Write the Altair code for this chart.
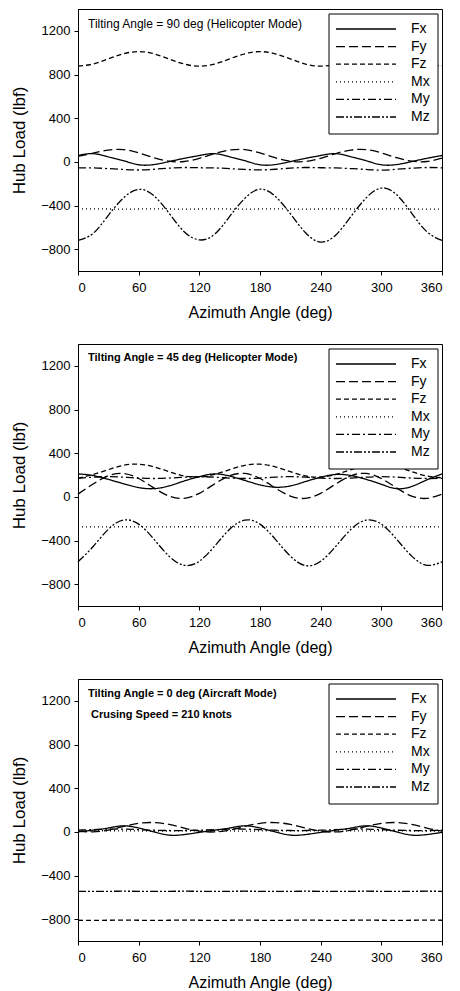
import altair as alt
import pandas as pd

ANGLES = [0, 15, 30, 45, 60, 75, 90, 105, 120, 135, 150, 165, 180,
          195, 210, 225, 240, 255, 270, 285, 300, 315, 330, 345, 360]
SERIES = ["Fx", "Fy", "Fz", "Mx", "My", "Mz"]
LEGEND_ROW = [0, 1, 2, 3, 4, 5]
X_TICKS = [0, 60, 120, 180, 240, 300, 360]
Y_TICKS = [-800, -400, 0, 400, 800, 1200]

# ---- Tilting angle 90 deg ----
fx_90 = [58, 75, 45, 10, -27, -25, 2, 32, 58, 75, 46, 10, -27, -25, 2, 32, 58, 75, 46, 10, -27, -25, 2, 32, 58]
fy_90 = [50, 80, 108, 112, 82, 38, 6, 3, 32, 76, 108, 112, 82, 38, 6, 3, 32, 76, 108, 112, 82, 38, 6, 3, 34]
fz_90 = [878, 896, 943, 990, 1010, 990, 943, 896, 876, 896, 943, 990, 1010, 990, 943, 896, 876, 896, 943, 990, 1010, 990, 943, 896, 880]
mx_90 = [-432, -431, -432, -433, -432, -431, -432, -433, -432, -431, -432, -433, -432, -431, -432, -433, -432, -431, -432, -433, -432, -431, -432, -433, -432]
my_90 = [-55, -56, -62, -70, -75, -68, -58, -52, -54, -56, -62, -70, -74, -68, -58, -52, -54, -56, -62, -70, -76, -68, -58, -52, -55]
mz_90 = [-720, -655, -490, -330, -252, -310, -470, -640, -715, -665, -500, -335, -250, -315, -475, -650, -735, -670, -500, -330, -240, -300, -470, -640, -720]

# ---- Tilting angle 45 deg ----
fx_45 = [210, 195, 160, 120, 85, 75, 100, 145, 185, 210, 190, 150, 110, 88, 100, 140, 180, 205, 195, 160, 115, 75, 95, 155, 210]
fy_45 = [25, 118, 193, 214, 168, 82, 7, -14, 32, 118, 193, 214, 168, 82, 7, -14, 32, 118, 193, 214, 168, 82, 7, -14, 25]
fz_45 = [170, 205, 249, 289, 299, 275, 231, 191, 181, 205, 249, 289, 299, 275, 231, 191, 181, 205, 249, 289, 299, 275, 231, 191, 175]
mx_45 = [-275, -276, -275, -274, -275, -276, -275, -274, -275, -276, -275, -274, -275, -276, -275, -274, -275, -276, -275, -274, -275, -276, -275, -274, -275]
my_45 = [170, 180, 185, 180, 172, 168, 172, 180, 185, 180, 172, 168, 172, 180, 185, 180, 172, 168, 172, 180, 185, 180, 172, 168, 170]
mz_45 = [-595, -455, -297, -213, -250, -387, -543, -627, -590, -453, -297, -213, -250, -387, -543, -630, -590, -453, -297, -213, -250, -387, -543, -627, -595]

# ---- Tilting angle 0 deg ----
fx_0 = [0, 15, 35, 55, 35, 0, -30, -25, -5, 15, 35, 55, 35, 0, -30, -25, -5, 15, 35, 55, 35, 0, -30, -25, -5]
fy_0 = [6, -1, 16, 49, 78, 85, 68, 35, 6, -1, 16, 49, 78, 85, 68, 35, 6, -1, 16, 49, 78, 85, 68, 35, 6]
fz_0 = [-810, -811, -810, -809, -810, -811, -810, -809, -810, -811, -810, -809, -810, -811, -810, -809, -810, -811, -810, -809, -810, -811, -810, -809, -810]
mx_0 = [8, 9, 10, 9, 8, 7, 8, 9, 10, 9, 8, 7, 8, 9, 10, 9, 8, 7, 8, 9, 10, 9, 8, 7, 8]
my_0 = [15, 20, 25, 25, 20, 15, 12, 12, 15, 20, 25, 25, 20, 15, 12, 12, 15, 20, 25, 25, 20, 15, 12, 12, 15]
mz_0 = [-545, -546, -545, -544, -545, -546, -545, -544, -545, -546, -545, -544, -545, -546, -545, -544, -545, -546, -545, -544, -545, -546, -545, -544, -545]

PANELS = [
    ({"Fx": fx_90, "Fy": fy_90, "Fz": fz_90, "Mx": mx_90, "My": my_90, "Mz": mz_90},
     [("Tilting Angle = 90 deg (Helicopter Mode)", "normal", 12, 10, 15)]),
    ({"Fx": fx_45, "Fy": fy_45, "Fz": fz_45, "Mx": mx_45, "My": my_45, "Mz": mz_45},
     [("Tilting Angle = 45 deg (Helicopter Mode)", "bold", 11, 10, 14)]),
    ({"Fx": fx_0, "Fy": fy_0, "Fz": fz_0, "Mx": mx_0, "My": my_0, "Mz": mz_0},
     [("Tilting Angle = 0 deg (Aircraft Mode)", "bold", 11, 10, 15),
      ("Crusing Speed = 210 knots", "bold", 11, 13, 36)]),
]

DASHES = [[1, 0], [9, 4], [5, 3], [1, 3], [8, 3, 2, 3], [8, 2, 2, 2, 2, 2]]
FONT = "Liberation Sans"
W, H = 364, 262

DASH_SCALE = alt.Scale(domain=SERIES, range=DASHES)
ROW_SCALE = alt.Scale(domain=[0, 5], range=[20, 108])


def make_panel(data, notes):
    rows = []
    for name in SERIES:
        for a, v in zip(ANGLES, data[name]):
            rows.append({"angle": a, "load": v, "series": name})
    df = pd.DataFrame(rows)
    lines = alt.Chart(df).mark_line(color="black", strokeWidth=1.3, interpolate="natural").encode(
        x=alt.X("angle:Q", scale=alt.Scale(domain=[0, 360], nice=False),
                axis=alt.Axis(values=X_TICKS, title="Azimuth Angle (deg)")),
        y=alt.Y("load:Q", scale=alt.Scale(domain=[-1000, 1400], nice=False),
                axis=alt.Axis(values=Y_TICKS, format="d", title="Hub Load (lbf)")),
        strokeDash=alt.StrokeDash("series:N", scale=DASH_SCALE, legend=None),
    )
    leg_df = pd.DataFrame({"series": SERIES, "row": LEGEND_ROW})
    box = alt.Chart(pd.DataFrame({"k": [0]})).mark_rect(
        fill="white", stroke="black", strokeWidth=1
    ).encode(x=alt.value(251), x2=alt.value(360), y=alt.value(5), y2=alt.value(125))
    rules = alt.Chart(leg_df).mark_rule(color="black", strokeWidth=1.3).encode(
        x=alt.value(258), x2=alt.value(318),
        y=alt.Y("row:Q", scale=ROW_SCALE, axis=None),
        strokeDash=alt.StrokeDash("series:N", scale=DASH_SCALE, legend=None),
    )
    labels = alt.Chart(leg_df).mark_text(
        align="left", baseline="middle", fontSize=14, font=FONT, color="black"
    ).encode(
        x=alt.value(333),
        y=alt.Y("row:Q", scale=ROW_SCALE, axis=None),
        text="series:N",
    )
    layers = [lines, box, rules, labels]
    for txt, weight, size, tx, ty in notes:
        t = alt.Chart(pd.DataFrame({"t": [txt]})).mark_text(
            align="left", baseline="middle", fontSize=size, font=FONT,
            fontWeight=weight, color="black",
        ).encode(text="t:N", x=alt.value(tx), y=alt.value(ty))
        layers.append(t)
    return alt.layer(*layers).resolve_scale(y="independent").properties(width=W, height=H)


chart = alt.vconcat(*[make_panel(d, n) for d, n in PANELS], spacing=22).properties(
    padding={"left": 2, "top": 0, "right": 4, "bottom": 0}
).configure_view(stroke="black", strokeWidth=1).configure_axis(
    grid=False, domainColor="black", tickColor="black", tickSize=4,
    labelFont=FONT, titleFont=FONT, labelFontSize=13,
    titleFontWeight="normal", labelColor="black", titleColor="black",
).configure_axisY(titlePadding=12, titleFontSize=17, labelPadding=4).configure_axisX(
    titlePadding=10, titleFontSize=16, labelPadding=6)

chart.save("out.html", embed_options={"renderer": "svg", "actions": False})
